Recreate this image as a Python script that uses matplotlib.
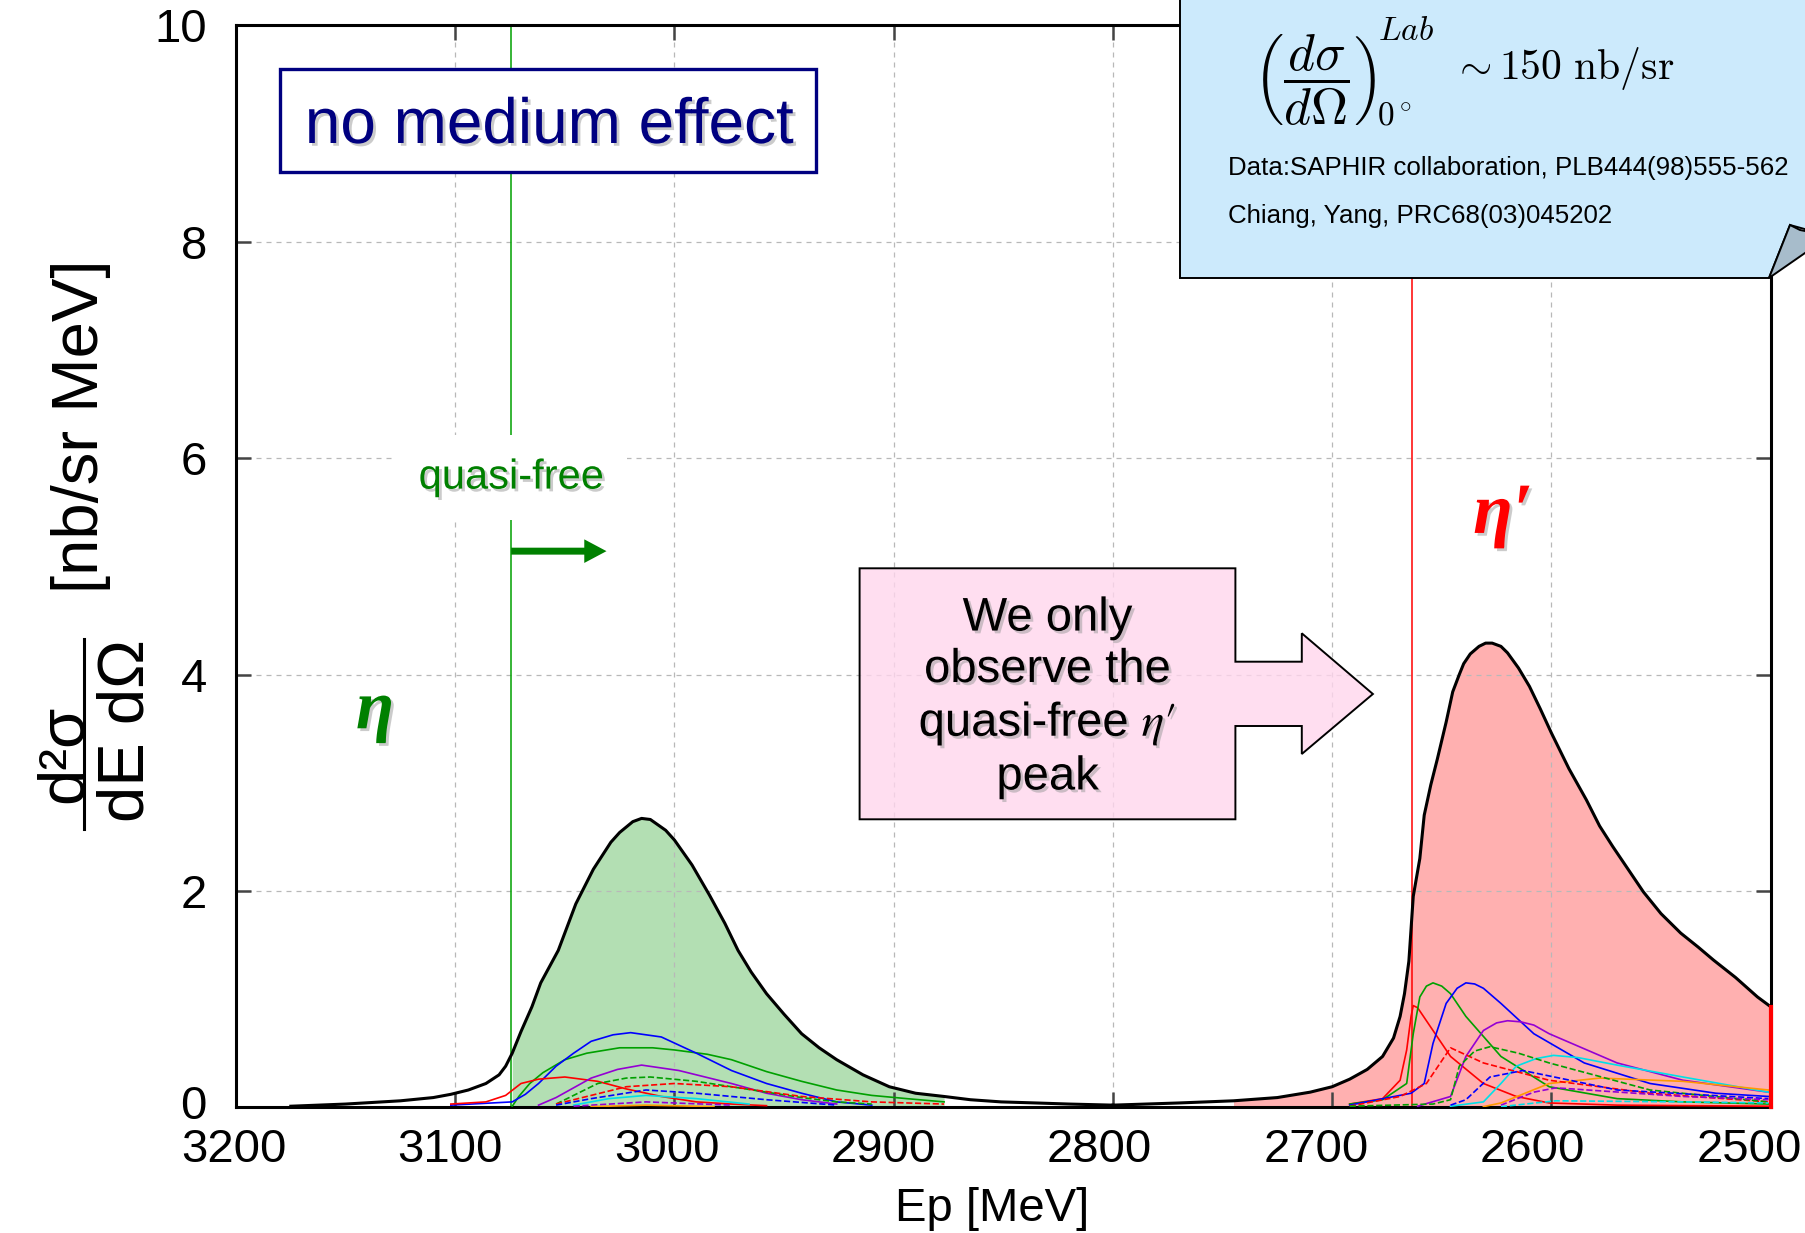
import numpy as np
import matplotlib
matplotlib.use('Agg')
import matplotlib.pyplot as plt
import matplotlib.patheffects as pe
import matplotlib.transforms as mtransforms
from matplotlib.patches import Polygon, Rectangle, FancyArrowPatch

plt.rcParams['font.family'] = ['Liberation Sans', 'DejaVu Sans']

W, H = 1805, 1233

# quasi-free thresholds [MeV]
qf_eta = 3074.5
qf_etap = 2663.5

# total spectrum, eta region
eta_E = [3175, 3150, 3125, 3110, 3102, 3094, 3086, 3080, 3077, 3074, 3070, 3065, 3061, 3053,
         3045, 3037, 3029, 3025, 3019, 3015, 3011, 3004, 3000, 2992, 2984, 2977, 2971, 2965,
         2958, 2950, 2942, 2934, 2926, 2914, 2902, 2890, 2877, 2865, 2851, 2835, 2820, 2800]
eta_tot = [0.01, 0.03, 0.06, 0.09, 0.12, 0.16, 0.22, 0.30, 0.38, 0.50, 0.70, 0.93, 1.15, 1.45,
           1.88, 2.20, 2.45, 2.54, 2.64, 2.67, 2.66, 2.56, 2.47, 2.24, 1.96, 1.70, 1.45, 1.25,
           1.05, 0.86, 0.68, 0.55, 0.44, 0.30, 0.19, 0.13, 0.10, 0.07, 0.05, 0.04, 0.03, 0.02]

# total spectrum, eta' region
etap_E = [2800, 2770, 2745, 2725, 2710, 2700, 2692, 2684, 2677, 2672, 2669, 2667, 2665, 2663,
          2660, 2658, 2655, 2652, 2648, 2645, 2642, 2640, 2637, 2633, 2630, 2627, 2623, 2620,
          2615, 2610, 2605, 2600, 2592, 2584, 2578, 2572, 2565, 2558, 2550, 2541, 2533, 2526,
          2516, 2506, 2500]
etap_tot = [0.02, 0.04, 0.06, 0.09, 0.14, 0.19, 0.26, 0.35, 0.47, 0.64, 0.84, 1.05, 1.35, 1.95,
            2.30, 2.70, 2.98, 3.22, 3.56, 3.84, 4.00, 4.10, 4.19, 4.26, 4.29, 4.29, 4.26, 4.20,
            4.06, 3.89, 3.68, 3.46, 3.13, 2.84, 2.60, 2.41, 2.20, 1.99, 1.79, 1.61, 1.48, 1.36,
            1.20, 1.02, 0.93]

# eta components
eg_E = [3074, 3071, 3066, 3060, 3050, 3040, 3025, 3010, 3000, 2985, 2974, 2958, 2942, 2926, 2910, 2894, 2877]
eg_v = [0.01, 0.10, 0.22, 0.32, 0.44, 0.50, 0.55, 0.55, 0.53, 0.49, 0.44, 0.33, 0.24, 0.16, 0.11, 0.08, 0.05]
eb_E = [3102, 3074, 3068, 3062, 3054, 3046, 3038, 3028, 3020, 3006, 2990, 2974, 2958, 2942, 2926, 2910]
eb_v = [0.02, 0.05, 0.12, 0.22, 0.38, 0.50, 0.61, 0.67, 0.69, 0.65, 0.50, 0.34, 0.22, 0.13, 0.05, 0.02]
er_E = [3102, 3086, 3077, 3070, 3062, 3050, 3035, 3022, 3006, 2990, 2974, 2958]
er_v = [0.03, 0.05, 0.11, 0.22, 0.26, 0.28, 0.24, 0.17, 0.10, 0.05, 0.03, 0.015]
ep_E = [3062, 3054, 3046, 3038, 3026, 3015, 2998, 2986, 2974, 2958, 2942, 2926]
ep_v = [0.02, 0.09, 0.18, 0.27, 0.35, 0.39, 0.34, 0.28, 0.22, 0.13, 0.07, 0.03]
egd_E = [3054, 3044, 3035, 3022, 3011, 2990, 2974, 2958, 2942, 2926, 2910]
egd_v = [0.03, 0.13, 0.22, 0.27, 0.28, 0.24, 0.19, 0.14, 0.09, 0.05, 0.03]
erd_E = [3054, 3038, 3022, 3000, 2974, 2942, 2910, 2877]
erd_v = [0.03, 0.11, 0.19, 0.22, 0.19, 0.10, 0.05, 0.03]
ebd_E = [3054, 3038, 3013, 2990, 2958, 2926]
ebd_v = [0.02, 0.08, 0.16, 0.13, 0.07, 0.02]
ec_E = [3046, 3030, 3013, 2990, 2966]
ec_v = [0.02, 0.08, 0.11, 0.08, 0.03]
epd_E = [3046, 3013, 2974]
epd_v = [0.01, 0.05, 0.02]
eo_E = [3038, 3013, 2982]
eo_v = [0.006, 0.02, 0.006]

# eta' components
pr_E = [2692, 2677, 2669, 2666, 2664, 2663, 2661, 2654, 2646, 2631, 2616, 2601, 2570, 2501]
pr_v = [0.03, 0.08, 0.25, 0.53, 0.84, 0.94, 0.92, 0.71, 0.47, 0.22, 0.10, 0.04, 0.02, 0.01]
pg_E = [2692, 2677, 2666, 2663, 2660, 2657, 2654, 2650, 2646, 2639, 2623, 2601, 2570, 2540, 2501]
pg_v = [0.03, 0.07, 0.22, 0.68, 1.02, 1.12, 1.15, 1.12, 1.05, 0.84, 0.47, 0.19, 0.08, 0.05, 0.03]
pb_E = [2692, 2664, 2658, 2654, 2648, 2643, 2639, 2635, 2631, 2623, 2608, 2585, 2555, 2525, 2501]
pb_v = [0.02, 0.13, 0.22, 0.59, 0.96, 1.10, 1.15, 1.14, 1.10, 0.96, 0.68, 0.41, 0.22, 0.13, 0.10]
pp_E = [2661, 2646, 2639, 2631, 2625, 2620, 2614, 2608, 2601, 2570, 2540, 2501]
pp_v = [0.01, 0.10, 0.47, 0.71, 0.78, 0.80, 0.79, 0.76, 0.68, 0.41, 0.25, 0.14]
pc_E = [2646, 2631, 2623, 2616, 2607, 2599, 2588, 2570, 2540, 2501]
pc_v = [0.01, 0.05, 0.22, 0.38, 0.45, 0.48, 0.46, 0.39, 0.28, 0.14]
po_E = [2631, 2623, 2601, 2578, 2540, 2501]
po_v = [0.006, 0.04, 0.22, 0.27, 0.24, 0.16]
prd_E = [2692, 2669, 2657, 2646, 2631, 2601, 2555, 2501]
prd_v = [0.01, 0.10, 0.22, 0.55, 0.41, 0.25, 0.13, 0.05]
pgd_E = [2692, 2654, 2646, 2642, 2635, 2628, 2615, 2601, 2555, 2501]
pgd_v = [0.01, 0.03, 0.07, 0.38, 0.52, 0.56, 0.50, 0.41, 0.16, 0.05]
pbd_E = [2646, 2639, 2628, 2613, 2570, 2501]
pbd_v = [0.02, 0.07, 0.28, 0.34, 0.16, 0.08]
ppd_E = [2623, 2608, 2598, 2540, 2501]
ppd_v = [0.02, 0.14, 0.18, 0.10, 0.07]
pcd_E = [2623, 2598, 2540, 2501]
pcd_v = [0.006, 0.06, 0.05, 0.04]

x_ticks = [3200, 3100, 3000, 2900, 2800, 2700, 2600, 2500]
y_ticks = [0, 2, 4, 6, 8, 10]

GREEN = '#00a000'
PURPLE = '#9400d3'
CYAN = '#00e0e8'
ORANGE = '#ff9900'

components = [
    (eg_E, eg_v, GREEN, '-'), (eb_E, eb_v, 'blue', '-'), (er_E, er_v, 'red', '-'),
    (ep_E, ep_v, PURPLE, '-'), (egd_E, egd_v, GREEN, '--'), (erd_E, erd_v, 'red', '--'),
    (ebd_E, ebd_v, 'blue', '--'), (ec_E, ec_v, CYAN, '-'), (epd_E, epd_v, PURPLE, '--'),
    (eo_E, eo_v, ORANGE, '-'),
    (pr_E, pr_v, 'red', '-'), (pg_E, pg_v, GREEN, '-'), (pb_E, pb_v, 'blue', '-'),
    (pp_E, pp_v, PURPLE, '-'), (pc_E, pc_v, CYAN, '-'), (po_E, po_v, ORANGE, '-'),
    (prd_E, prd_v, 'red', '--'), (pgd_E, pgd_v, GREEN, '--'), (pbd_E, pbd_v, 'blue', '--'),
    (ppd_E, ppd_v, PURPLE, '--'), (pcd_E, pcd_v, CYAN, '--'),
]


def fxy(x, y):
    # pixel (top-left origin) -> figure fraction
    return (x / W, 1 - y / H)


fig = plt.figure(figsize=(W / 100, H / 100), dpi=100)
ax = fig.add_axes([236 / W, 1 - 1107.3 / H, (1770.6 - 236) / W, (1107.3 - 25.3) / H])

eE = np.array(eta_E)
pE = np.array(etap_E)
ax.fill_between(eE, eta_tot, 0, where=(eE <= qf_eta) & (eE >= 2877), color='#b3dfb3', lw=0, zorder=1)
ax.fill_between(pE, etap_tot, 0, where=(pE <= 2745), color='#ffb0b0', lw=0, zorder=1)

for E, v, c, ls in components:
    ax.plot(E, v, color=c, ls=ls, lw=1.2, zorder=3)

ax.plot(eta_E, eta_tot, color='black', lw=2.2, zorder=4)
ax.plot(etap_E, etap_tot, color='black', lw=2.2, zorder=4)
ax.plot([2500, 2500], [0, etap_tot[-1]], color='red', lw=3, zorder=4, clip_on=False)

ax.axvline(qf_eta, color=GREEN, lw=1.1, zorder=2)
ax.axvline(qf_etap, color='red', lw=1.1, zorder=2)

ax.set_xlim(3200, 2500)
ax.set_ylim(0, 10)
ax.set_xticks(x_ticks)
ax.set_yticks(y_ticks)
ax.tick_params(direction='in', length=11, width=1.8, color='#444444', labelsize=34,
               top=True, right=True)
ax.tick_params(axis='x', pad=15)
ax.tick_params(axis='y', pad=21)
ax.grid(True, color='#b8b8b8', lw=0.9, ls=(0, (4, 4)), zorder=0)
for s in ax.spines.values():
    s.set_linewidth(2.2)

# the pasted tick labels drift slightly left of their ticks
for k, lab in enumerate(ax.get_xticklabels()):
    dx = -(2.3 + 2.76 * k) / 100
    lab.set_transform(lab.get_transform() + mtransforms.ScaledTranslation(dx, 0, fig.dpi_scale_trans))
ylab0 = ax.get_yticklabels()[0]
ylab0.set_transform(ylab0.get_transform() + mtransforms.ScaledTranslation(0, 5 / 100, fig.dpi_scale_trans))

fig.text(*fxy(992, 1209), 'Ep [MeV]', fontsize=34, ha='center', va='center')

# y label: fraction + unit
fig.text(*fxy(65, 754), 'd²σ', rotation=90, fontsize=47, ha='center', va='center')
fig.text(*fxy(127, 731), 'dE dΩ', rotation=90, fontsize=47, ha='center', va='center')
fig.add_artist(plt.Line2D([84 / W, 84 / W], [1 - 829 / H, 1 - 639 / H], color='black', lw=2.2))
fig.text(*fxy(81, 426), '[nb/sr MeV]', rotation=90, fontsize=47, ha='center', va='center')

shadow = [pe.withSimplePatchShadow(offset=(2, -2), shadow_rgbFace='#999999', alpha=0.5)]

# "no medium effect" box
ax.add_patch(Rectangle(fxy(280.4, 171.7), (816 - 280.4) / W, (171.7 - 69.3) / H,
                       transform=fig.transFigure, facecolor='white', edgecolor='#000080',
                       lw=2.4, zorder=6, clip_on=False))
ax.text(*fxy(549, 126), 'no medium effect', transform=fig.transFigure, fontsize=46,
        color='#000080', ha='center', va='center', zorder=7, path_effects=shadow)

# quasi-free label and arrow
ax.text(qf_eta, 5.82, 'quasi-free', fontsize=30, color='#008000', ha='center', va='center',
        zorder=7, path_effects=shadow,
        bbox=dict(boxstyle='square,pad=0.55', facecolor='white', edgecolor='none'))
ax.add_patch(FancyArrowPatch((qf_eta, 5.14), (3031, 5.14),
                             arrowstyle='simple,head_length=16,head_width=17,tail_width=5',
                             color='#008000', lw=0, shrinkA=0, shrinkB=0, zorder=7))

# particle labels
ax.text(3136.6, 3.66, 'η', fontsize=50, color='#008000', ha='center', va='center',
        family='Liberation Serif', style='italic', weight='bold', zorder=7, path_effects=shadow)
ax.text(2622, 5.47, 'η′', fontsize=52, color='red', ha='center', va='center',
        family='Liberation Serif', style='italic', weight='bold', zorder=7, path_effects=shadow)

# pink block arrow
arrow_pts = [(859.6, 568.3), (1235.4, 568.3), (1235.4, 661.7), (1301.8, 661.7), (1301.8, 633.3),
             (1372.9, 694), (1301.8, 754), (1301.8, 726), (1235.4, 726), (1235.4, 819.3),
             (859.6, 819.3)]
ax.add_patch(Polygon([fxy(x, y) for x, y in arrow_pts], closed=True, transform=fig.transFigure,
                     facecolor=(1.0, 0.84, 0.93, 0.8), edgecolor='black', lw=1.4, zorder=6,
                     clip_on=False))
ax.text(*fxy(1047.5, 698), "We only\nobserve the\nquasi-free $\\eta\\prime$\npeak",
        transform=fig.transFigure, fontsize=34, ha='center', va='center', linespacing=1.22,
        math_fontfamily='stix', zorder=7, path_effects=shadow)

# callout box at top right
body = [(1180, -20), (1180, 278), (1769, 278), (1790, 225), (1830, 236), (1830, -20)]
ax.add_patch(Polygon([fxy(x, y) for x, y in body], closed=True, transform=fig.transFigure,
                     facecolor='#cceafc', edgecolor='black', lw=1.4, zorder=8, clip_on=False))
fold = [(1769, 278), (1790, 225), (1800, 230), (1830, 236), (1805, 253)]
ax.add_patch(Polygon([fxy(x, y) for x, y in fold], closed=True, transform=fig.transFigure,
                     facecolor='#a7bccb', edgecolor='black', lw=1.4, zorder=8, clip_on=False))
ax.text(*fxy(1253, 80), r'$\left(\dfrac{d\sigma}{d\Omega}\right)$',
        transform=fig.transFigure, fontsize=37, math_fontfamily='cm', ha='left', va='center',
        zorder=9)
ax.text(*fxy(1378, 31), r'$Lab$', transform=fig.transFigure, fontsize=24,
        math_fontfamily='cm', ha='left', va='center', zorder=9)
ax.text(*fxy(1377, 117), r'$0^\circ$', transform=fig.transFigure, fontsize=24,
        math_fontfamily='cm', ha='left', va='center', zorder=9)
ax.text(*fxy(1452, 69), r'$\sim 150\ \mathrm{nb/sr}$', transform=fig.transFigure, fontsize=30,
        math_fontfamily='cm', ha='left', va='center', zorder=9)
ax.text(*fxy(1228, 168), 'Data:SAPHIR collaboration, PLB444(98)555-562', transform=fig.transFigure,
        fontsize=18.6, ha='left', va='center', zorder=9)
ax.text(*fxy(1228, 216), 'Chiang, Yang, PRC68(03)045202', transform=fig.transFigure,
        fontsize=18.6, ha='left', va='center', zorder=9)

fig.savefig('out.png', dpi=100)
